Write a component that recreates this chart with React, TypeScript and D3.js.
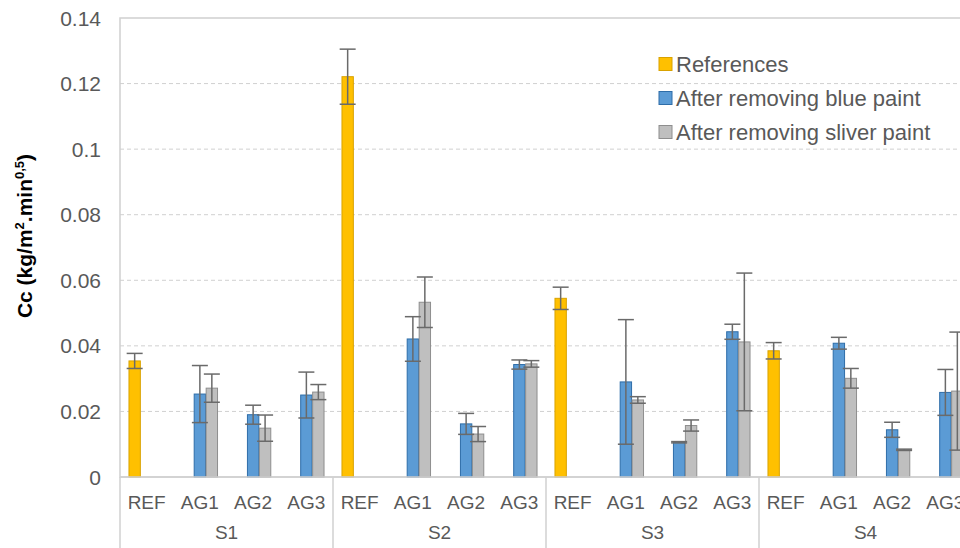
import * as d3 from "d3";
import React from "react";

// chart values
const groups = ["S1", "S2", "S3", "S4"];
const subCats = ["REF", "AG1", "AG2", "AG3"];
const seriesNames = ["References", "After removing blue paint", "After removing sliver paint"];

const refValues = [0.0354, 0.1221, 0.0545, 0.0385];
const refErr = [0.0023, 0.0084, 0.0034, 0.0025];

// AG1, AG2, AG3 per group
const blueValues = [
  [0.0253, 0.019, 0.025],
  [0.0421, 0.0162, 0.0343],
  [0.029, 0.0106, 0.0443],
  [0.0408, 0.0144, 0.0258],
];
const blueErr = [
  [0.0087, 0.0029, 0.007],
  [0.0068, 0.0032, 0.0014],
  [0.019, 0.0002, 0.0023],
  [0.0018, 0.0023, 0.007],
];
const grayValues = [
  [0.0271, 0.0149, 0.0259],
  [0.0533, 0.0131, 0.0345],
  [0.0235, 0.0157, 0.0412],
  [0.0301, 0.0083, 0.0262],
];
const grayErr = [
  [0.0043, 0.004, 0.0023],
  [0.0077, 0.0023, 0.001],
  [0.001, 0.0017, 0.021],
  [0.003, 0.0002, 0.018],
];

const yTicks = [0, 0.02, 0.04, 0.06, 0.08, 0.1, 0.12, 0.14];

const width = 960;
const height = 548;
const plotLeft = 120;
const plotRight = 972;
const plotTop = 18;
const plotBottom = 477;

const fills = ["#FFC000", "#5B9BD5", "#BFBFBF"];
const strokes = ["#D9A200", "#2E6DA8", "#8E8E8E"];
const textColor = "#595959";
const font = "'Liberation Sans', Arial, sans-serif";

const catKeys = groups.flatMap((g) => subCats.map((c) => g + "|" + c));

const x = d3.scaleBand().domain(catKeys).range([plotLeft, plotRight]).padding(0);
const xs = d3
  .scaleBand()
  .domain(["0", "1", "2"])
  .range([0, x.bandwidth()])
  .paddingInner(0.05)
  .paddingOuter(0.75);
const y = d3.scaleLinear().domain([0, 0.14]).range([plotBottom, plotTop]);
const groupX = d3.scaleBand().domain(groups).range([plotLeft, plotRight]).padding(0);

type Bar = { key: string; s: number; v: number; e: number };

const bars: Bar[] = [];
groups.forEach((g, gi) => {
  bars.push({ key: g + "|REF", s: 0, v: refValues[gi], e: refErr[gi] });
  subCats.slice(1).forEach((c, ci) => {
    bars.push({ key: g + "|" + c, s: 1, v: blueValues[gi][ci], e: blueErr[gi][ci] });
    bars.push({ key: g + "|" + c, s: 2, v: grayValues[gi][ci], e: grayErr[gi][ci] });
  });
});

const fmt = (v: number) => String(+v.toFixed(2));

export default function App() {
  const capW = 16;
  return (
    <svg
      width={width}
      height={height}
      style={{ position: "absolute", left: 0, top: 0, background: "#fff" }}
      fontFamily={font}
    >
      <rect width={width} height={height} fill="#fff" />
      {/* gridlines */}
      {yTicks.slice(1, -1).map((t) => (
        <line
          key={t}
          x1={plotLeft}
          x2={plotRight}
          y1={y(t)}
          y2={y(t)}
          stroke="#D0D0D0"
          strokeDasharray="4,3"
        />
      ))}
      <rect
        x={plotLeft}
        y={plotTop}
        width={plotRight - plotLeft}
        height={plotBottom - plotTop}
        fill="none"
        stroke="#D0D0D0"
        strokeWidth={1.5}
      />
      {/* bars */}
      {bars.map((b, i) => {
        const bx = (x(b.key) as number) + (xs(String(b.s)) as number);
        return (
          <rect
            key={"b" + i}
            x={bx}
            y={y(b.v)}
            width={xs.bandwidth()}
            height={y(0) - y(b.v)}
            fill={fills[b.s]}
            stroke={strokes[b.s]}
            strokeWidth={1}
          />
        );
      })}
      {/* error bars */}
      {bars.map((b, i) => {
        const cx = (x(b.key) as number) + (xs(String(b.s)) as number) + xs.bandwidth() / 2;
        const y1 = y(b.v + b.e);
        const y2 = y(b.v - b.e);
        return (
          <g key={"e" + i} stroke="#6A6A6A" strokeWidth={1.5}>
            <line x1={cx} x2={cx} y1={y1} y2={y2} />
            <line x1={cx - capW / 2} x2={cx + capW / 2} y1={y1} y2={y1} />
            <line x1={cx - capW / 2} x2={cx + capW / 2} y1={y2} y2={y2} />
          </g>
        );
      })}
      {/* category axis */}
      <line x1={plotLeft} x2={plotRight} y1={plotBottom} y2={plotBottom} stroke="#D0D0D0" strokeWidth={1.5} />
      {groups.map((g) => (
        <line
          key={"sep" + g}
          x1={groupX(g) as number}
          x2={groupX(g) as number}
          y1={plotBottom}
          y2={height}
          stroke="#D0D0D0"
          strokeWidth={1.5}
        />
      ))}
      {catKeys.map((k) => (
        <text
          key={"c" + k}
          x={(x(k) as number) + x.bandwidth() / 2}
          y={509}
          textAnchor="middle"
          fontSize={19}
          fill={textColor}
        >
          {k.split("|")[1]}
        </text>
      ))}
      {groups.map((g) => (
        <text
          key={"g" + g}
          x={(groupX(g) as number) + groupX.bandwidth() / 2}
          y={539}
          textAnchor="middle"
          fontSize={19}
          fill={textColor}
        >
          {g}
        </text>
      ))}
      {/* value axis labels */}
      {yTicks.map((t) => (
        <text key={"y" + t} x={101} y={y(t) + 7.5} textAnchor="end" fontSize={21} fill={textColor}>
          {fmt(t)}
        </text>
      ))}
      <text
        transform={`translate(32, 236) rotate(-90)`}
        textAnchor="middle"
        fontSize={21}
        fontWeight="bold"
        fill="#000"
      >
        Cc (kg/m
        <tspan fontSize={13} dy={-8}>2</tspan>
        <tspan dy={8}>.min</tspan>
        <tspan fontSize={13} dy={-8}>0,5</tspan>
        <tspan dy={8}>)</tspan>
      </text>
      {/* legend */}
      {seriesNames.map((n, i) => {
        const ly = 64 + i * 34;
        return (
          <g key={"l" + i}>
            <rect x={659} y={ly - 6.5} width={13} height={13} fill={fills[i]} stroke={strokes[i]} />
            <text x={676} y={ly + 8} fontSize={22} fill={textColor}>
              {n}
            </text>
          </g>
        );
      })}
    </svg>
  );
}
